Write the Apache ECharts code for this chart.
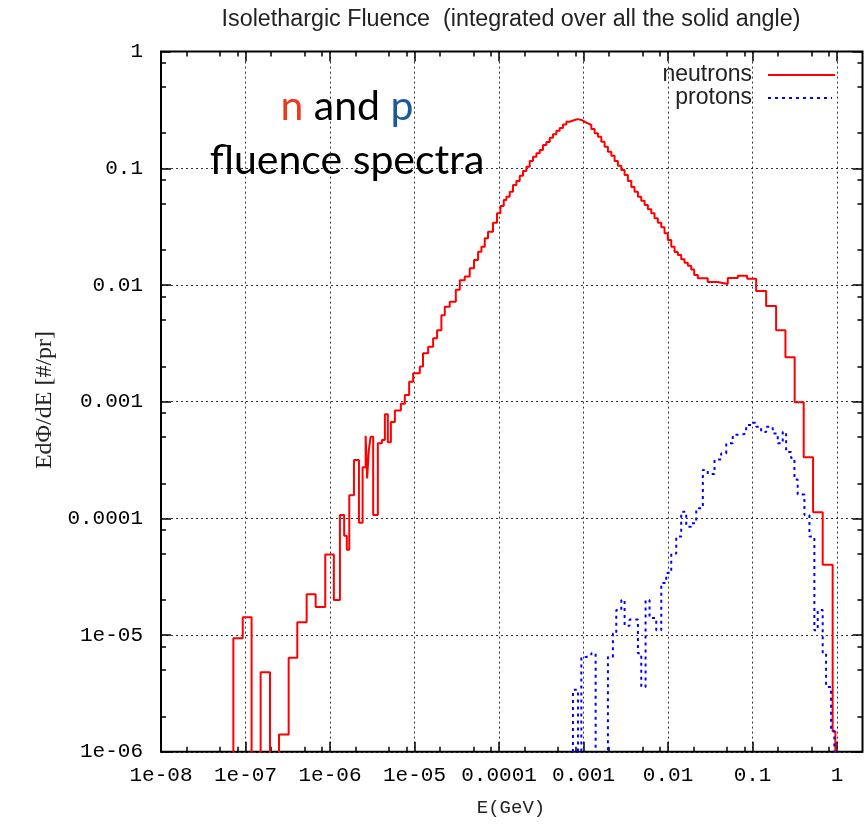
<!DOCTYPE html>
<html>
<head>
<meta charset="utf-8">
<script src="https://cdn.jsdelivr.net/npm/echarts@6/dist/echarts.min.js"></script>
<style>
  html, body { margin: 0; padding: 0; background: #fff; }
  #chart { width: 867px; height: 828px; }
</style>
</head>
<body>
<div id="chart"></div>
<script>
// Neutron histogram: lower bin edges (GeV) and E dPhi/dE per primary in each bin
const neutronEdges = [
  7.18e-8, 9.27e-8, 1.18e-7, 1.51e-7, 1.95e-7, 2.49e-7, 3.24e-7, 4.10e-7, 5.29e-7, 6.76e-7,
  8.78e-7, 1.11e-6, 1.31e-6, 1.47e-6, 1.58e-6, 1.69e-6, 1.92e-6, 2.20e-6, 2.43e-6, 2.64e-6,
  2.75e-6, 2.88e-6, 3.02e-6, 3.24e-6, 3.68e-6, 4.11e-6, 4.46e-6, 4.83e-6, 5.25e-6, 5.85e-6,
  6.89e-6, 7.68e-6, 8.64e-6, 9.63e-6, 1.155e-5, 1.26e-5, 1.45e-5, 1.66e-5, 1.85e-5, 2.08e-5,
  2.28e-5, 2.61e-5, 3.08e-5, 3.43e-5, 3.93e-5, 4.50e-5, 5.06e-5, 5.65e-5, 6.19e-5, 6.78e-5,
  7.41e-5, 8.49e-5, 9.47e-5, 1.039e-4, 1.137e-4, 1.223e-4, 1.338e-4,
  1.464e-4, 1.606e-4, 1.757e-4, 1.922e-4, 2.108e-4, 2.307e-4, 2.523e-4, 2.77e-4, 3.028e-4, 3.31e-4,
  3.634e-4, 3.98e-4, 4.347e-4, 4.77e-4, 5.218e-4, 5.71e-4, 6.261e-4, 6.85e-4, 7.85e-4, 8.59e-4,
  9.42e-4, 1.030e-3, 1.127e-3, 1.237e-3, 1.353e-3, 1.480e-3, 1.623e-3, 1.776e-3, 1.943e-3, 2.131e-3,
  2.331e-3, 2.55e-3, 2.80e-3, 3.06e-3, 3.348e-3, 3.673e-3, 4.018e-3, 4.40e-3, 4.82e-3, 5.28e-3,
  5.77e-3, 6.33e-3, 6.92e-3, 7.57e-3, 8.31e-3, 9.09e-3, 9.94e-3, 1.091e-2, 1.194e-2, 1.306e-2,
  1.432e-2, 1.567e-2, 1.714e-2, 1.88e-2, 2.04e-2, 2.25e-2, 2.95e-2, 3.88e-2, 5.09e-2, 6.69e-2,
  8.64e-2, 0.1103, 0.1448, 0.190, 0.245, 0.315, 0.403, 0.520, 0.676, 0.887
];
const neutronFlux = [
  9.4e-6, 1.42e-5, 0, 4.8e-6, 0, 1.41e-6, 6.4e-6, 1.29e-5, 2.24e-5, 1.74e-5,
  4.9e-5, 2.0e-5, 1.07e-4, 7.1e-5, 5.4e-5, 1.58e-4, 3.16e-4, 9.2e-5, 2.74e-4, 5.1e-4,
  2.2e-4, 3.85e-4, 5.0e-4, 1.07e-4, 4.4e-4, 4.7e-4, 7.8e-4, 4.5e-4, 6.7e-4, 8.4e-4,
  9.6e-4, 1.14e-3, 1.48e-3, 1.75e-3, 2.0e-3, 2.6e-3, 2.96e-3, 3.5e-3, 4.1e-3, 5.5e-3,
  6.5e-3, 7.2e-3, 9.1e-3, 0.011, 0.0118, 0.0139, 0.0164, 0.0193, 0.0213, 0.0251,
  0.0286, 0.0342, 0.0411, 0.0475, 0.0535, 0.0571, 0.063,
  0.072, 0.0778, 0.0865, 0.0949, 0.1033, 0.1157, 0.1257, 0.1346, 0.1436, 0.158,
  0.168, 0.183, 0.196, 0.21, 0.222, 0.237, 0.2506, 0.2594, 0.264, 0.2594,
  0.2506, 0.243, 0.235, 0.217, 0.1995, 0.1866, 0.169, 0.1531, 0.1387, 0.1282,
  0.1157, 0.1052, 0.0966, 0.0877, 0.0778, 0.069, 0.0631, 0.0571, 0.0527, 0.0485,
  0.0446, 0.0411, 0.0373, 0.0342, 0.0312, 0.0277, 0.0243, 0.0213, 0.0192, 0.0181,
  0.0166, 0.0155, 0.0146, 0.0136, 0.0122, 0.0114, 0.0106, 0.0102, 0.0115, 0.0120,
  0.0113, 0.0089, 0.0066, 0.0041, 0.0024, 0.00099, 3.34e-4, 1.13e-4, 4.0e-5, 1.5e-6
];
const neutronTopEdge = 0.955;

// Proton histogram: lower bin edges (GeV) and E dPhi/dE per primary in each bin
const protonEdges = [
  7.49e-4, 8.59e-4, 9.42e-4, 1.079e-3, 1.237e-3, 1.39e-3, 1.943e-3, 2.226e-3, 2.44e-3, 2.80e-3,
  3.06e-3, 3.51e-3, 4.40e-3, 4.82e-3, 5.42e-3, 6.04e-3, 7.25e-3, 8.31e-3, 9.52e-3, 1.091e-2,
  1.25e-2, 1.432e-2, 1.641e-2, 1.88e-2, 2.155e-2, 2.58e-2, 2.95e-2, 3.55e-2, 4.25e-2, 4.88e-2,
  5.83e-2, 7.33e-2, 8.40e-2, 9.63e-2, 0.1103, 0.1264, 0.1448, 0.1733, 0.1986, 0.2275,
  0.2496, 0.286, 0.313, 0.342, 0.411, 0.471, 0.539, 0.590, 0.676, 0.741,
  0.849
];
const protonFlux = [
  3.4e-6, 0, 6.5e-6, 6.7e-6, 7.0e-6, 0, 6.5e-6, 1.03e-5, 1.64e-5, 2.0e-5,
  1.2e-5, 1.36e-5, 7.0e-6, 3.6e-6, 2.0e-5, 1.4e-5, 1.1e-5, 2.8e-5, 3.4e-5, 5.0e-5,
  7.0e-5, 1.14e-4, 8.5e-5, 9.1e-5, 1.22e-4, 2.6e-4, 2.4e-4, 3.2e-4, 3.6e-4, 4.4e-4,
  5.2e-4, 5.35e-4, 6.3e-4, 6.6e-4, 6.1e-4, 5.5e-4, 6.1e-4, 5.35e-4, 4.4e-4, 5.5e-4,
  3.7e-4, 3.3e-4, 2.15e-4, 1.6e-4, 1.07e-4, 7.0e-5, 1.1e-5, 1.64e-5, 7.0e-6, 3.6e-6,
  1.5e-6
];
const protonTopEdge = 0.929;

// Axis decades and their printed labels
const xTickValues = [1e-8, 1e-7, 1e-6, 1e-5, 1e-4, 1e-3, 1e-2, 1e-1, 1];
const xTickLabels = ['1e-08', '1e-07', '1e-06', '1e-05', '0.0001', '0.001', '0.01', '0.1', '1'];
const yTickValues = [1e-6, 1e-5, 1e-4, 1e-3, 1e-2, 1e-1, 1];
const yTickLabels = ['1e-06', '1e-05', '0.0001', '0.001', '0.01', '0.1', '1'];
const minorFactors = [2, 5, 8];

const seriesNames = ['neutrons', 'protons'];
const seriesColors = ['#ff0000', '#0000ff'];

const X_MIN = 1e-8, X_MAX = 2, Y_MIN = 1e-6, Y_MAX = 1;
const EMPTY = 1e-9; // empty bins sit below the axis and are clipped away

function histogram(edges, flux, topEdge) {
  const pts = [[edges[0], EMPTY]];
  for (let i = 0; i < edges.length; i++) {
    pts.push([edges[i], flux[i] > 0 ? flux[i] : EMPTY]);
  }
  const last = flux[flux.length - 1];
  pts.push([topEdge, last > 0 ? last : EMPTY]);
  pts.push([topEdge, EMPTY]);
  return pts;
}

function minorValues(majors, max) {
  const out = [];
  majors.forEach(function (m) {
    minorFactors.forEach(function (f) {
      const v = m * f;
      if (v < max) out.push(v);
    });
  });
  return out;
}

function labelFor(values, labels) {
  return function (v) {
    for (let i = 0; i < values.length; i++) {
      if (Math.abs(Math.log10(v) - Math.log10(values[i])) < 1e-6) return labels[i];
    }
    return '';
  };
}

const tickFont = { fontFamily: 'Liberation Mono', fontSize: 21, color: '#000' };
const tickLine = { color: '#000', width: 1.5 };
const gridLine = { color: '#000', width: 1, type: [2, 3], opacity: 0.8 };

function xAxisDef(position, values, len, withLabels) {
  return {
    type: 'log', logBase: 10, min: X_MIN, max: X_MAX, position: position,
    axisLine: { show: false },
    axisTick: { show: true, inside: true, length: len, customValues: values, lineStyle: tickLine },
    axisLabel: withLabels
      ? Object.assign({ show: true, customValues: xTickValues, formatter: labelFor(xTickValues, xTickLabels), margin: 13 }, tickFont)
      : { show: false },
    splitLine: withLabels ? { show: true, lineStyle: gridLine } : { show: false },
    minorTick: { show: false }, minorSplitLine: { show: false }
  };
}

function yAxisDef(position, values, len, withLabels) {
  return {
    type: 'log', logBase: 10, min: Y_MIN, max: Y_MAX, position: position,
    axisLine: { show: false },
    axisTick: { show: true, inside: true, length: len, customValues: values, lineStyle: tickLine },
    axisLabel: withLabels
      ? Object.assign({ show: true, customValues: yTickValues, formatter: labelFor(yTickValues, yTickLabels), margin: 18 }, tickFont)
      : { show: false },
    splitLine: withLabels ? { show: true, lineStyle: gridLine } : { show: false },
    minorTick: { show: false }, minorSplitLine: { show: false }
  };
}

const xMinor = minorValues(xTickValues, X_MAX);
const yMinor = minorValues(yTickValues, Y_MAX);

// Key in the upper right: label text, then a sample of each line style
const keyGraphics = [];
seriesNames.forEach(function (name, i) {
  const y = 75 + i * 23;
  keyGraphics.push({
    type: 'text', x: 752, y: y,
    style: { text: name, align: 'right', verticalAlign: 'middle', font: '23px "Liberation Sans"', fill: '#222' }
  });
  keyGraphics.push({
    type: 'line', shape: { x1: 768, y1: y, x2: i === 0 ? 835 : 832, y2: y },
    style: { stroke: seriesColors[i], lineWidth: 2, lineDash: i === 0 ? null : [3, 4] }
  });
});

const chart = echarts.init(document.getElementById('chart'), null, { renderer: 'canvas' });

chart.setOption({
  animation: false,
  backgroundColor: '#fff',
  grid: {
    left: 161, right: 4.5, top: 51.6, bottom: 76.2,
    show: true, borderColor: '#000', borderWidth: 2, backgroundColor: 'transparent'
  },
  title: {
    text: 'Isolethargic Fluence  (integrated over all the solid angle)',
    left: 506, top: 3, textAlign: 'center',
    textStyle: { fontFamily: 'Liberation Sans', fontSize: 23.3, fontWeight: 'normal', color: '#222' }
  },
  xAxis: [
    xAxisDef('bottom', xTickValues, 10, true),
    xAxisDef('bottom', xMinor, 5, false),
    xAxisDef('top', xTickValues, 10, false),
    xAxisDef('top', xMinor, 5, false)
  ],
  yAxis: [
    yAxisDef('left', yTickValues, 10, true),
    yAxisDef('left', yMinor, 5, false),
    yAxisDef('right', yTickValues, 10, false),
    yAxisDef('right', yMinor, 5, false)
  ],
  graphic: keyGraphics.concat([
    {
      type: 'text', x: 45, y: 400, rotation: Math.PI / 2,
      style: {
        text: 'EdΦ/dE [#/pr]', align: 'center', verticalAlign: 'middle',
        font: '24px "Liberation Serif"', fill: '#222'
      }
    },
    {
      type: 'text', x: 511, y: 808,
      style: {
        text: 'E(GeV)', align: 'center', verticalAlign: 'middle',
        font: '19px "Liberation Mono"', fill: '#222'
      }
    },
    {
      type: 'text', x: 347, y: 107,
      style: {
        text: '{n|n} {a|and} {p|p}', align: 'center', verticalAlign: 'middle',
        rich: {
          n: { font: '41px Lato', fill: '#ee3a1c' },
          a: { font: '41px Lato', fill: '#000' },
          p: { font: '41px Lato', fill: '#1a5a96' }
        },
        font: '41px Lato'
      }
    },
    {
      type: 'text', x: 347, y: 161,
      style: {
        text: 'fluence spectra', align: 'center', verticalAlign: 'middle',
        font: '41px Lato', fill: '#000'
      }
    }
  ]),
  series: [
    {
      name: seriesNames[0], type: 'line', step: 'end', xAxisIndex: 0, yAxisIndex: 0,
      showSymbol: false, symbol: 'none', clip: true,
      lineStyle: { color: seriesColors[0], width: 2 },
      itemStyle: { color: seriesColors[0] },
      data: histogram(neutronEdges, neutronFlux, neutronTopEdge),
      z: 3
    },
    {
      name: seriesNames[1], type: 'line', step: 'end', xAxisIndex: 0, yAxisIndex: 0,
      showSymbol: false, symbol: 'none', clip: true,
      lineStyle: { color: seriesColors[1], width: 2, type: [3, 4] },
      itemStyle: { color: seriesColors[1] },
      data: histogram(protonEdges, protonFlux, protonTopEdge),
      z: 3
    }
  ]
});
</script>
</body>
</html>
